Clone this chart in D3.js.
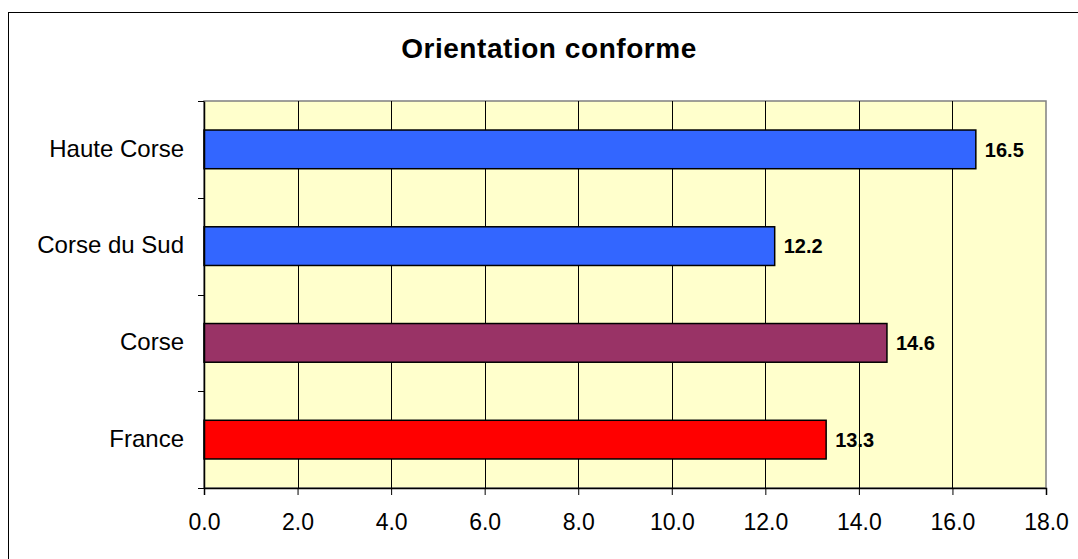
<!DOCTYPE html>
<html><head><meta charset="utf-8">
<script src="https://cdn.jsdelivr.net/npm/d3@7"></script>
<style>body{margin:0;background:#fff;}svg{display:block;font-family:"Liberation Sans",Arial,sans-serif;}</style>
</head><body>
<script>
const categories = ["Haute Corse", "Corse du Sud", "Corse", "France"];
const values = [16.5, 12.2, 14.6, 13.3];
const barColors = ["#3366FF", "#3366FF", "#993366", "#FF0000"];
const xTicks = [0, 2, 4, 6, 8, 10, 12, 14, 16, 18];
const title = "Orientation conforme";

const W = 1078, H = 559;
const FONT = "Liberation Sans, Arial, sans-serif";
const svg = d3.select("body").append("svg").attr("width", W).attr("height", H);
svg.append("rect").attr("x", 8.5).attr("y", 12.5).attr("width", W).attr("height", H)
  .attr("fill", "#fff").attr("stroke", "#000").attr("stroke-width", 1);

const L = 204, R = 1046, T = 101, B = 488;
const x = d3.scaleLinear().domain([0, 18]).range([L, R]);
const y = d3.scaleBand().domain(categories).range([T, B]).paddingInner(0.6).paddingOuter(0.3);

svg.append("rect").attr("x", L).attr("y", T).attr("width", R - L).attr("height", B - T)
  .attr("fill", "#FFFFCC").attr("stroke", "#808080").attr("stroke-width", 1.5);

// gridlines
svg.append("g").selectAll("line").data(xTicks.slice(1, -1)).join("line")
  .attr("x1", d => Math.round(x(d)) + 0.5).attr("x2", d => Math.round(x(d)) + 0.5)
  .attr("y1", T).attr("y2", B).attr("stroke", "#000").attr("stroke-width", 1);

// bars
svg.append("g").selectAll("rect").data(categories).join("rect")
  .attr("x", x(0)).attr("y", d => y(d))
  .attr("width", (d, i) => x(values[i]) - x(0)).attr("height", y.bandwidth())
  .attr("fill", (d, i) => barColors[i]).attr("stroke", "#000").attr("stroke-width", 1.5);

// value labels
svg.append("g").selectAll("text").data(categories).join("text")
  .attr("x", (d, i) => x(values[i]) + 9).attr("y", d => y(d) + y.bandwidth() / 2)
  .attr("dy", "0.36em").attr("font-size", 20).attr("font-weight", "bold")
  .text((d, i) => values[i].toFixed(1));

// x axis
const xAxis = d3.axisBottom(x).tickValues(xTicks).tickFormat(d3.format(".1f")).tickSize(7).tickPadding(19);
const gx = svg.append("g").attr("transform", `translate(0,${B})`).call(xAxis);
gx.select(".domain").attr("stroke", "#000").attr("stroke-width", 1.5);
gx.selectAll(".tick line").attr("stroke", "#000");
gx.selectAll("text").attr("font-size", 23).attr("font-family", FONT).attr("fill", "#000");

// y axis
const yAxis = d3.axisLeft(y).tickSize(0).tickPadding(20);
const gy = svg.append("g").attr("transform", `translate(${L},0)`).call(yAxis);
gy.select(".domain").attr("stroke", "#000").attr("stroke-width", 1.5);
gy.selectAll("text").attr("font-size", 24).attr("font-family", FONT).attr("fill", "#000").attr("dy", "0.3em");
// category separator ticks
const sepY = d3.range(categories.length + 1).map(i => T + i * (B - T) / categories.length);
svg.append("g").selectAll("line").data(sepY).join("line")
  .attr("x1", L - 6).attr("x2", L).attr("y1", d => Math.round(d) + 0.5).attr("y2", d => Math.round(d) + 0.5)
  .attr("stroke", "#000");

svg.append("text").attr("x", 549).attr("y", 58).attr("text-anchor", "middle")
  .attr("font-size", 28).attr("font-weight", "bold").attr("letter-spacing", 0.55).text(title);
</script>
</body></html>
